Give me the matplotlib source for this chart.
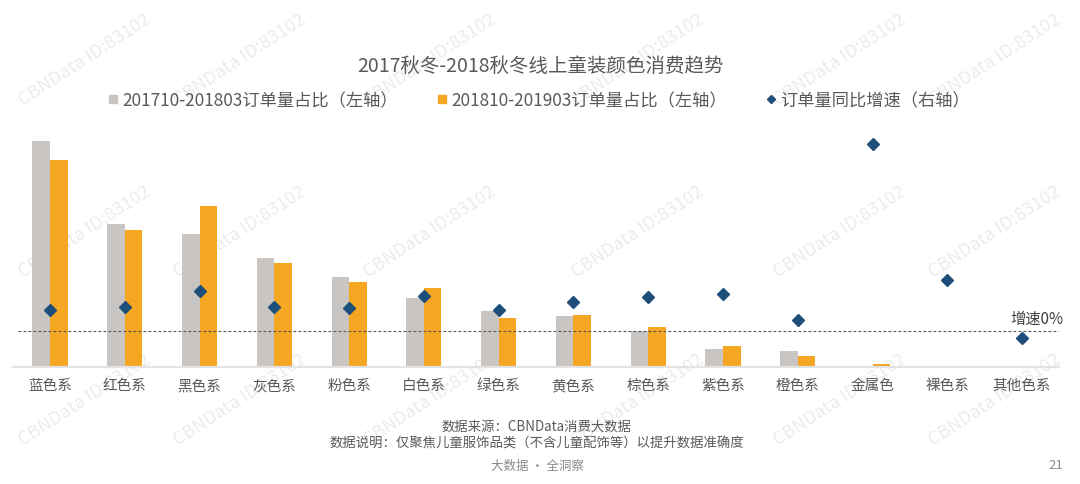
import numpy as np
import matplotlib.pyplot as plt
from matplotlib.lines import Line2D

plt.rcParams['font.family'] = ['Noto Sans CJK SC', 'DejaVu Sans']

# 数据
colors_cat = ['蓝色系', '红色系', '黑色系', '灰色系', '粉色系', '白色系', '绿色系',
              '黄色系', '棕色系', '紫色系', '橙色系', '金属色', '裸色系', '其他色系']
share_1718 = [23.8, 15.1, 14.0, 11.5, 9.5, 7.3, 5.9, 5.4, 3.8, 1.9, 1.7, 0.07, 0.0, 0.05]
share_1819 = [21.8, 14.4, 16.9, 11.0, 9.0, 8.3, 5.2, 5.5, 4.2, 2.2, 1.2, 0.28, 0.0, 0.0]
growth = [42.6, 47.4, 80.0, 47.4, 46.6, 70.0, 41.4, 57.4, 67.4, 74.0, 21.4, 374.0, 101.4, -14.0]

legend_labels = ['201710-201803订单量占比（左轴）', '201810-201903订单量占比（左轴）',
                 '订单量同比增速（右轴）']

c_gray = '#c9c5c3'
c_orange = '#f5a623'
c_blue = '#1e4f7a'
c_text = '#595959'

fig = plt.figure(figsize=(10.8, 4.85), dpi=100)

# 水印
wm_x = [85, 240, 430, 638, 840, 995]
wm_y = [60, 232, 400]
for yy in wm_y:
    for xx in wm_x:
        fig.text(xx / 1080, 1 - yy / 485, 'CBNData ID:83102', rotation=33,
                 ha='center', va='center', fontsize=13, color='#ececec', zorder=-5)

ax = fig.add_axes([0.0117, 0.2412, 0.9693, 0.4897])
ax.patch.set_alpha(0)
x = np.arange(len(colors_cat))
w = 0.235
ax.bar(x - w / 2, share_1718, width=w, color=c_gray, zorder=2)
ax.bar(x + w / 2, share_1819, width=w, color=c_orange, zorder=2)
ax.set_xlim(-0.5, len(colors_cat) - 0.5)
ax.set_ylim(0, 25)
ax.set_yticks([])
ax.set_xticks(x)
ax.set_xticklabels(colors_cat, fontsize=10.5, color=c_text)
ax.tick_params(axis='x', length=0, pad=8)
for s in ['top', 'left', 'right']:
    ax.spines[s].set_visible(False)
ax.spines['bottom'].set_color('#e3e3e3')
ax.spines['bottom'].set_linewidth(1.6)

ax2 = ax.twinx()
ax2.set_ylim(-72, 403)
ax2.plot(x, growth, linestyle='none', marker='D', markersize=6.5, color=c_blue, zorder=3)
ax2.axhline(0, xmin=0.005, xmax=1.0, color='#555555', linewidth=0.8,
            linestyle=(0, (2.5, 2)), zorder=1)
ax2.annotate('增速0%', xy=(1.0, 0), xycoords=('axes fraction', 'data'),
             xytext=(3, 3), textcoords='offset points', ha='right', va='bottom',
             fontsize=11, color='#404040')
ax2.set_yticks([])
for s in ['top', 'left', 'right', 'bottom']:
    ax2.spines[s].set_visible(False)

# 标题与图例
fig.text(0.5, 1 - 66 / 485, '2017秋冬-2018秋冬线上童装颜色消费趋势', ha='center', va='center',
         fontsize=14, color=c_text)
handles = [Line2D([], [], linestyle='none', marker='s', markersize=5.5, color=c_gray),
           Line2D([], [], linestyle='none', marker='s', markersize=5.5, color=c_orange),
           Line2D([], [], linestyle='none', marker='D', markersize=4.5, color=c_blue)]
leg = fig.legend(handles, legend_labels, loc='center', bbox_to_anchor=(539 / 1080, 1 - 101 / 485),
                 ncol=3, frameon=False, fontsize=12.4, handlelength=0.6, handletextpad=0.2,
                 columnspacing=2.3, labelcolor=c_text)

# 脚注
fig.text(537 / 1080, 1 - 427 / 485, '数据来源：CBNData消费大数据', ha='center', va='center',
         fontsize=9.6, color=c_text)
fig.text(537 / 1080, 1 - 444 / 485, '数据说明：仅聚焦儿童服饰品类（不含儿童配饰等）以提升数据准确度',
         ha='center', va='center', fontsize=9.6, color=c_text)
fig.text(537 / 1080, 1 - 466 / 485, '大数据 · 全洞察', ha='center', va='center',
         fontsize=9, color='#8a8a8a')
fig.text(1063 / 1080, 1 - 466 / 485, '21', ha='right', va='center', fontsize=9.5, color='#8a8a8a')

fig.savefig('out.png', dpi=100, facecolor='white')
